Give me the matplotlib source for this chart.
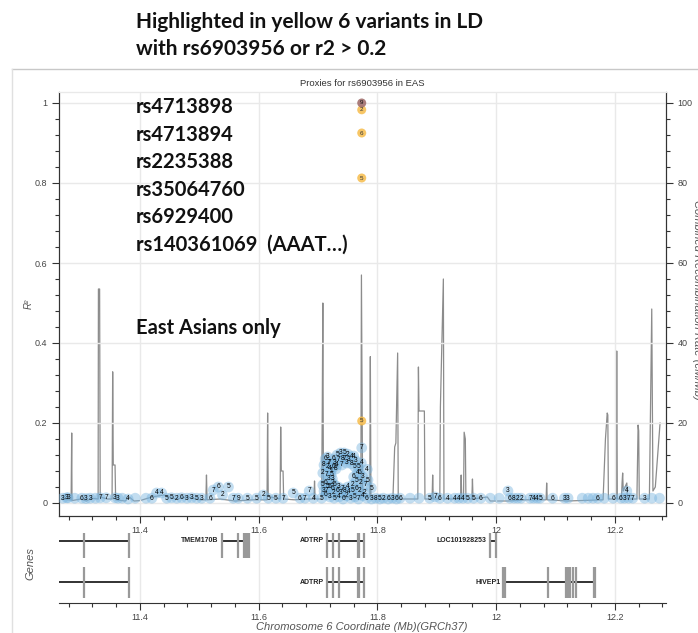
import matplotlib
matplotlib.use("Agg")
import matplotlib.pyplot as plt
from matplotlib.lines import Line2D

# ---- data ----
# recombination rate (cM/Mb), right axis
recomb_pos = [11.268, 11.280, 11.284, 11.285, 11.2855, 11.300, 11.310, 11.318, 11.3295,
              11.330, 11.332, 11.333, 11.345, 11.353, 11.354, 11.355, 11.358, 11.359,
              11.375, 11.382, 11.390, 11.400, 11.420, 11.440, 11.460, 11.480, 11.500,
              11.511, 11.512, 11.513, 11.535, 11.560, 11.590, 11.614, 11.615, 11.616,
              11.620, 11.636, 11.637, 11.638, 11.641, 11.642, 11.660, 11.680, 11.693,
              11.694, 11.695, 11.706, 11.707, 11.708, 11.709, 11.720, 11.740, 11.772,
              11.773, 11.775, 11.787, 11.788, 11.789, 11.800, 11.826, 11.829, 11.831,
              11.834, 11.835, 11.860, 11.868, 11.869, 11.870, 11.879, 11.880, 11.892,
              11.893, 11.894, 11.905, 11.906, 11.911, 11.912, 11.940, 11.941, 11.942,
              11.945, 11.946, 11.948, 11.949, 11.959, 11.960, 11.961, 11.985, 11.990,
              12.020, 12.050, 12.084, 12.085, 12.086, 12.120, 12.180, 12.184, 12.187,
              12.188, 12.189, 12.202, 12.203, 12.204, 12.211, 12.212, 12.213, 12.214,
              12.220, 12.221, 12.237, 12.239, 12.240, 12.241, 12.258, 12.262, 12.264,
              12.268, 12.276]
recomb_rate = [1.0, 0.8, 0.8, 17.5, 0.6, 1.0, 0.5, 1.2, 1.0,
               53.5, 53.5, 1.5, 1.0, 1.0, 32.8, 9.5, 9.5, 0.8,
               0.5, 1.5, 0.5, 0.6, 1.5, 2.0, 1.0, 1.5, 0.8,
               0.8, 7.0, 0.8, 1.0, 0.5, 0.8, 0.8, 22.5, 2.0,
               1.5, 1.0, 19.0, 8.0, 8.0, 1.0, 0.8, 1.0, 1.0,
               5.5, 1.0, 1.0, 23.0, 50.0, 2.0, 1.5, 1.5, 1.0,
               57.0, 1.5, 1.5, 36.6, 1.5, 1.0, 1.0, 14.0, 15.0,
               37.5, 1.0, 1.0, 1.0, 34.0, 23.0, 23.0, 1.0, 1.0,
               7.0, 1.0, 1.0, 24.0, 56.0, 1.0, 1.0, 7.0, 1.0,
               1.0, 17.7, 16.0, 1.0, 1.0, 6.0, 1.0, 1.5, 0.5,
               0.5, 0.8, 0.8, 5.0, 0.8, 0.5, 0.8, 16.0, 22.5,
               22.0, 1.0, 1.0, 38.0, 1.0, 1.0, 5.0, 7.5, 3.0,
               5.0, 1.0, 1.0, 19.5, 18.0, 1.0, 1.0, 48.5, 3.0,
               4.0, 20.0]

# proxies with low LD (blue)
snp_pos = [11.270, 11.2765, 11.279, 11.290, 11.302, 11.309, 11.316, 11.325, 11.333, 11.343,
           11.358, 11.363, 11.370, 11.380, 11.392, 11.410, 11.420, 11.428, 11.4365, 11.445,
           11.453, 11.462, 11.470, 11.479, 11.487, 11.4955, 11.504, 11.518, 11.5235, 11.532,
           11.539, 11.549, 11.557, 11.5655, 11.581, 11.5965, 11.6077, 11.616, 11.629, 11.641,
           11.658, 11.6695, 11.678, 11.685, 11.692, 11.706,
           11.710, 11.712, 11.714, 11.716, 11.720, 11.722, 11.718, 11.716, 11.713,
           11.726, 11.732, 11.738, 11.744, 11.750, 11.756, 11.742, 11.735,
           11.760, 11.764, 11.7727, 11.768, 11.770, 11.7828, 11.775, 11.784, 11.780, 11.7896, 11.772,
           11.728, 11.734, 11.742, 11.750, 11.758, 11.764, 11.724, 11.725,
           11.720, 11.727, 11.735, 11.742, 11.748, 11.755, 11.762, 11.768, 11.775, 11.782,
           11.790, 11.797, 11.804, 11.810, 11.818, 11.825, 11.832, 11.7735,
           11.708, 11.708, 11.710, 11.712, 11.716, 11.718, 11.720, 11.722, 11.724, 11.726,
           11.728, 11.730, 11.732, 11.714, 11.720, 11.726, 11.732, 11.738, 11.745, 11.752,
           11.758, 11.764, 11.770, 11.740, 11.748, 11.756, 11.762, 11.766, 11.760, 11.778,
           11.745, 11.752,
           11.838, 11.855, 11.870, 11.888, 11.897, 11.905, 11.918, 11.930, 11.937, 11.944,
           11.952, 11.962, 11.974, 11.990, 12.005, 12.0198, 12.023, 12.030, 12.036, 12.042,
           12.057, 12.063, 12.069, 12.074, 12.095, 12.115, 12.121, 12.145, 12.155, 12.163,
           12.171, 12.182, 12.197, 12.210, 12.216, 12.220, 12.223, 12.230, 12.250, 12.262,
           12.275]
snp_r2 = [0.012, 0.013, 0.013, 0.012, 0.012, 0.011, 0.012, 0.012, 0.013, 0.013,
          0.013, 0.012, 0.012, 0.010, 0.012, 0.012, 0.012, 0.025, 0.025, 0.012,
          0.013, 0.012, 0.013, 0.012, 0.013, 0.012, 0.012, 0.012, 0.0325, 0.040,
          0.020, 0.040, 0.012, 0.012, 0.012, 0.012, 0.020, 0.012, 0.012, 0.012,
          0.025, 0.012, 0.012, 0.030, 0.012, 0.012,
          0.030, 0.050, 0.070, 0.090, 0.100, 0.080, 0.060, 0.040, 0.020,
          0.110, 0.120, 0.125, 0.125, 0.122, 0.115, 0.110, 0.108,
          0.1175, 0.105, 0.100, 0.090, 0.075, 0.084, 0.065, 0.0575, 0.045, 0.0375, 0.050,
          0.045, 0.040, 0.035, 0.040, 0.045, 0.055, 0.060, 0.035,
          0.015, 0.012, 0.015, 0.010, 0.018, 0.012, 0.015, 0.010, 0.018, 0.012,
          0.010, 0.012, 0.010, 0.012, 0.010, 0.012, 0.010, 0.138,
          0.045, 0.075, 0.095, 0.110, 0.115, 0.100, 0.085, 0.070, 0.050, 0.090,
          0.100, 0.085, 0.095, 0.030, 0.040, 0.025, 0.030, 0.025, 0.030, 0.028,
          0.030, 0.035, 0.030, 0.095, 0.100, 0.098, 0.090, 0.075, 0.065, 0.025,
          0.112, 0.108,
          0.012, 0.012, 0.012, 0.012, 0.015, 0.012, 0.012, 0.012, 0.012, 0.012,
          0.012, 0.012, 0.012, 0.012, 0.012, 0.030, 0.012, 0.012, 0.012, 0.012,
          0.012, 0.012, 0.012, 0.012, 0.012, 0.012, 0.012, 0.012, 0.012, 0.012,
          0.012, 0.012, 0.012, 0.012, 0.012, 0.030, 0.012, 0.012, 0.012, 0.012,
          0.012]
snp_lab = ['3', '3', '3', '', '6', '3', '3', '', '7', '7',
           '3', '3', '', '4', '', '', '6', '4', '4', '5',
           '5', '2', '6', '3', '3', '5', '3', '6', '7', '6',
           '2', '5', '7', '9', '5', '5', '2', '5', '5', '7',
           '5', '6', '7', '7', '4', '5',
           '3', '6', '7', '2', '7', '1', '3', '5', '6',
           '6', '5', '3', '5', '2', '4', '8', '7',
           '4', '3', '4', '5', '6', '4', '3', '5', '7', '5', '2',
           '6', '3', '7', '4', '2', '5', '3', '6',
           '3', '5', '4', '6', '2', '3', '5', '7', '4', '6',
           '3', '8', '5', '2', '6', '3', '6', '7',
           '5', '2', '8', '6', '3', '7', '4', '5', '2', '6',
           '3', '8', '4', '7', '5', '2', '6', '3', '8', '4',
           '5', '6', '2', '7', '3', '8', '5', '4', '6', '2',
           '7', '3',
           '6', '', '', '5', '7', '6', '4', '4', '4', '4',
           '5', '5', '6', '', '', '3', '6', '8', '2', '2',
           '7', '4', '4', '5', '6', '3', '3', '', '', '',
           '6', '', '6', '6', '3', '4', '7', '7', '3', '',
           '']

# highlighted proxies (orange) and the query variant
hi_pos = [11.7735, 11.7735, 11.7735, 11.7735]
hi_r2 = [0.983, 0.925, 0.8125, 0.205]
hi_lab = ['2', '6', '5', '5']
lead_pos = 11.7735
lead_r2 = 1.0
lead_lab = '9'

# genes: name, row, start, end, exon positions
gene_names = ['', 'TMEM170B', 'ADTRP', 'LOC101928253', '', 'ADTRP', 'HIVEP1']
gene_rows = [1, 1, 1, 1, 0, 0, 0]
gene_start = [11.20, 11.5376, 11.7144, 11.989, 11.20, 11.7144, 12.012]
gene_end = [11.382, 11.584, 11.778, 12.000, 11.382, 11.778, 12.166]
gene_exons = [
    [11.305, 11.382],
    [11.5376, 11.5656, 11.5760, 11.5775, 11.5790, 11.5805, 11.5820, 11.584],
    [11.7144, 11.7245, 11.7352, 11.7667, 11.769, 11.778],
    [11.989, 12.000],
    [11.305, 11.382],
    [11.7144, 11.7245, 11.7352, 11.7667, 11.769, 11.778],
    [12.012, 12.014, 12.087, 12.118, 12.121, 12.124, 12.129, 12.135, 12.164, 12.166],
]

variant_list = ['rs4713898', 'rs4713894', 'rs2235388', 'rs35064760', 'rs6929400',
                'rs140361069  (AAAT…)']

x_ticks = [11.4, 11.6, 11.8, 12.0, 12.2]
x_tick_labels = ['11.4', '11.6', '11.8', '12', '12.2']
r2_ticks = [0, 0.2, 0.4, 0.6, 0.8, 1.0]
r2_tick_labels = ['0', '0.2', '0.4', '0.6', '0.8', '1']
rate_ticks = [0, 20, 40, 60, 80, 100]

# ---- figure ----
W, H = 698, 633
fig = plt.figure(figsize=(W / 100, H / 100), dpi=100)
chart_font = 'Liberation Sans'
note_font = 'Lato'
tick_col = '#444444'
grid_col = '#e9e9e9'

def fx(px):
    return px / W

def fy(py):
    return 1 - py / H

# panel frame around the LDlink plot
fig.add_artist(Line2D([fx(12), 1], [fy(69), fy(69)], color='#c8c8c8', lw=1))
fig.add_artist(Line2D([fx(12), fx(12)], [fy(69), 0], color='#e0e0e0', lw=1))

xlim = (11.2636, 12.286)

ax = fig.add_axes([fx(59), fy(516), fx(666) - fx(59), fy(92) - fy(516)])
ax.set_xlim(*xlim)
ax.set_ylim(-0.0325, 1.0275)
ax2 = ax.twinx()
ax2.set_ylim(-3.25, 102.75)

for a in (ax, ax2):
    a.spines['top'].set_color(grid_col)
    a.spines['left'].set_color('#333333')
    a.spines['right'].set_color('#333333')
    a.spines['bottom'].set_color('#333333')
    a.tick_params(which='both', direction='out', colors='#333333', labelcolor=tick_col,
                  labelsize=6.5)
    a.tick_params(which='major', length=5, width=0.8)
    a.tick_params(which='minor', length=3, width=0.8)

ax.set_xticks(x_ticks)
ax.set_xticklabels(x_tick_labels, fontfamily=chart_font)
ax.set_xticks([t / 100 for t in range(1128, 1229, 4)], minor=True)
ax.tick_params(axis='x', which='major', pad=2)
ax.set_yticks(r2_ticks)
ax.set_yticklabels(r2_tick_labels, fontfamily=chart_font)
ax.set_yticks([t / 100 for t in range(0, 101, 4)], minor=True)
ax2.set_yticks(rate_ticks)
ax2.set_yticklabels([str(v) for v in rate_ticks], fontfamily=chart_font)
ax2.set_yticks(list(range(0, 101, 4)), minor=True)
ax.grid(True, which='major', color=grid_col, lw=1)
ax.set_axisbelow(True)

fig.text(fx(29), fy(304), 'R²', rotation=90, ha='center', va='center', fontsize=7,
         fontstyle='italic', color='#555555', fontfamily=chart_font)
# the right-axis title sits half outside the picture, as in the screenshot
fig.text(fx(697), fy(300), 'Combined Recombination Rate (cM/Mb)', rotation=270,
         ha='center', va='center', fontsize=8, fontstyle='italic', color='#555555',
         fontfamily=chart_font)
ax.set_title('Proxies for rs6903956 in EAS', fontfamily=chart_font, fontsize=6.8,
             color='#333333', pad=4)

# recombination line on the right axis, drawn under the points
ax2.plot(recomb_pos, recomb_rate, color='#8c8c8c', lw=0.9, zorder=1)
ax2.set_zorder(ax.get_zorder() - 1)
ax.patch.set_visible(False)

ax.scatter(snp_pos, snp_r2, s=60, color='#78b4df', alpha=0.45, edgecolors='none', zorder=3)
for p, r, lab in zip(snp_pos, snp_r2, snp_lab):
    ax.text(p, r, lab, fontsize=4.8, ha='center', va='center', color='#000000',
            fontfamily=chart_font, zorder=4)

ax.scatter(hi_pos, hi_r2, s=42, color='#f6b840', alpha=0.8, edgecolors='none', zorder=5)
for p, r, lab in zip(hi_pos, hi_r2, hi_lab):
    ax.text(p, r, lab, fontsize=4.5, ha='center', va='center', color='#333333',
            fontfamily=chart_font, zorder=6)
ax.scatter([lead_pos], [lead_r2], s=42, color='#a2706e', alpha=0.9, edgecolors='none', zorder=5)
ax.text(lead_pos, lead_r2, lead_lab, fontsize=4.5, ha='center', va='center',
        color='#111111', fontfamily=chart_font, zorder=6)

# variant list and notes
for i, name in enumerate(variant_list):
    fig.text(fx(136), fy(107 + i * 27.6), name, fontsize=14.5, fontweight='bold',
             fontfamily=note_font, va='center', ha='left', color='#111111')
fig.text(fx(136), fy(328), 'East Asians only', fontsize=14.5, fontweight='bold',
         fontfamily=note_font, va='center', ha='left', color='#111111')
fig.text(fx(136), fy(22), 'Highlighted in yellow 6 variants in LD', fontsize=15,
         fontweight='bold', fontfamily=note_font, va='center', ha='left', color='#111111')
fig.text(fx(136), fy(49), 'with rs6903956 or r2 > 0.2', fontsize=15,
         fontweight='bold', fontfamily=note_font, va='center', ha='left', color='#111111')

# gene track
gx = fig.add_axes([fx(59), fy(603), fx(666) - fx(59), fy(533) - fy(603)])
gx.patch.set_visible(False)
gx.set_xlim(*xlim)
gx.set_ylim(-0.512, 1.195)
for s in ('top', 'left', 'right'):
    gx.spines[s].set_visible(False)
gx.spines['bottom'].set_color('#333333')
gx.set_yticks([])
gx.set_xticks(x_ticks)
gx.set_xticklabels(x_tick_labels, fontfamily=chart_font)
gx.set_xticks([t / 100 for t in range(1128, 1229, 4)], minor=True)
gx.tick_params(which='both', direction='out', colors='#333333', labelcolor=tick_col,
               labelsize=6.5, pad=2)
gx.tick_params(which='major', length=5, width=0.8)
gx.tick_params(which='minor', length=3, width=0.8)
gx.grid(True, axis='x', which='major', color=grid_col, lw=1)
gx.set_axisbelow(True)

exon_span = {1: (0.59, 1.19), 0: (-0.39, 0.37)}
for name, row, g0, g1, exons in zip(gene_names, gene_rows, gene_start, gene_end, gene_exons):
    gx.plot([g0, g1], [row, row], color='#222222', lw=1.3, zorder=3, solid_capstyle='butt')
    lo, hi = exon_span[row]
    gx.vlines(exons, lo, hi, color='#999999', lw=1.6, zorder=4)
    if name:
        gx.text(g0 - 0.005, row, name, ha='right', va='center', fontsize=5,
                fontweight='bold', fontfamily=chart_font, color='#222222')

fig.text(fx(30), fy(563), 'Genes', rotation=90, ha='center', va='center', fontsize=8,
         fontstyle='italic', color='#555555', fontfamily=chart_font)
fig.text(fx(362), fy(627), 'Chromosome 6 Coordinate (Mb)(GRCh37)', ha='center',
         va='center', fontsize=8, fontstyle='italic', color='#555555',
         fontfamily=chart_font)

fig.savefig('out.png', dpi=100)
